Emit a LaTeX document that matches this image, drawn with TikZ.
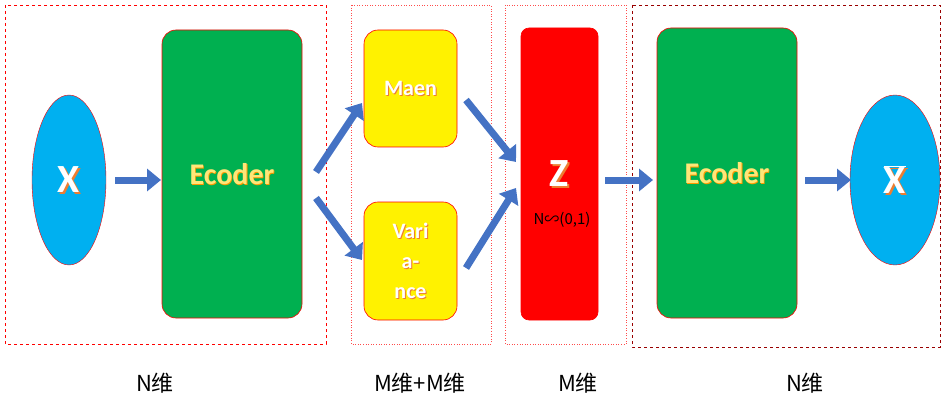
\documentclass[tikz,border=0pt]{standalone}
\usepackage{fontspec}
\setmainfont{Carlito}
\newfontfamily\cjk{Noto Sans CJK SC}
\usetikzlibrary{arrows.meta,shapes.geometric}
\definecolor{cy}{RGB}{0,176,240}
\definecolor{gr}{RGB}{0,176,80}
\definecolor{bl}{RGB}{68,114,196}
\definecolor{orz}{RGB}{237,125,49}
\definecolor{yl}{RGB}{255,230,120}
\tikzset{
 box/.style={draw=red,rounded corners=14pt,line width=0.6pt},
 barrow/.style={bl,line width=7pt,-{Triangle[length=14pt,width=22pt]},shorten <=0pt},
 lab/.style={font=\cjk\fontsize{22}{24}\selectfont},
 sh/.style={text=orz},
 wt/.style={text=white},
}
\newcommand{\fx}[4]{\node[sh,font=#3] at ([shift={(1.5,1.5)}]#1) {#4};\node[#2,font=#3] at (#1) {#4};}
\begin{document}
\begin{tikzpicture}[x=1pt,y=-1pt]
\useasboundingbox (0,0) rectangle (945,409);
\draw[red,dashed,line width=0.5pt] (5,5) rectangle (326,344);
\draw[red!70,dotted,line width=0.6pt] (351,5) rectangle (491,344);
\draw[red!70,dotted,line width=0.6pt] (505,5) rectangle (626,344);
\draw[red!60!black,dashed,line width=0.5pt] (632,5) rectangle (940,347);
\node[ellipse,draw=red,fill=cy,minimum width=74pt,minimum height=170pt,inner sep=0] (x) at (69,180) {};
\node[box,fill=gr,minimum width=140pt,minimum height=288pt] (e1) at (232,174) {};
\node[box,fill=yellow,minimum width=93pt,minimum height=117pt] (m) at (410.5,88.5) {};
\node[box,fill=yellow,minimum width=93pt,minimum height=118pt] (v) at (410.5,261) {};
\node[box,fill=red,minimum width=77pt,minimum height=292pt,rounded corners=8pt] (z) at (559.5,174) {};
\node[box,fill=gr,minimum width=140pt,minimum height=290pt] (e2) at (727,173) {};
\node[ellipse,draw=red,fill=cy,minimum width=90pt,minimum height=170pt,inner sep=0] (xb) at (895,180) {};
\fx{x.center}{wt}{\fontsize{40}{44}\selectfont\bfseries}{X}
\fx{xb.center}{wt}{\fontsize{40}{44}\selectfont\bfseries}{$\overline{\mbox{X}}$}
\fx{z.center}{wt}{\fontsize{40}{44}\selectfont\bfseries}{Z}
\node[font=\fontsize{30}{34}\selectfont\bfseries,text=orange!80!yellow] at ([shift={(0.8,0.8)}]e1.center) {Ecoder};
\node[font=\fontsize{30}{34}\selectfont\bfseries,text=yl] (t1) at (e1.center) {Ecoder};
\node[font=\fontsize{30}{34}\selectfont\bfseries,text=orange!80!yellow] at ([shift={(0.8,0.8)}]e2.center) {Ecoder};
\node[font=\fontsize{30}{34}\selectfont\bfseries,text=yl] (t2) at (e2.center) {Ecoder};
\node[font=\fontsize{22}{24}\selectfont\bfseries,text=orz] at ([shift={(1,1)}]m.center) {Maen};
\node[font=\fontsize{22}{24}\selectfont\bfseries,text=white] at (m.center) {Maen};
\node[font=\fontsize{22}{30}\selectfont\bfseries,text=orz,align=center] at ([shift={(1,1)}]v.center) {Vari\\a-\\nce};
\node[font=\fontsize{22}{30}\selectfont\bfseries,text=white,align=center] at (v.center) {Vari\\a-\\nce};
\node[font=\cjk\fontsize{15}{16}\selectfont] (nd) at (562,220) {N∽(0,1)};
\coordinate (a1s) at (115,180); \coordinate (a1e) at (161,180);
\draw[barrow] (a1s) -- (a1e);
\coordinate (a2s) at (316,172); \coordinate (a2e) at (362,103);
\draw[barrow] (a2s) -- (a2e);
\coordinate (a3s) at (316,198); \coordinate (a3e) at (362,260);
\draw[barrow] (a3s) -- (a3e);
\coordinate (a4s) at (466,100); \coordinate (a4e) at (516,162);
\draw[barrow] (a4s) -- (a4e);
\coordinate (a5s) at (466,268); \coordinate (a5e) at (516,188);
\draw[barrow] (a5s) -- (a5e);
\coordinate (a6s) at (605,180); \coordinate (a6e) at (653,180);
\draw[barrow] (a6s) -- (a6e);
\coordinate (a7s) at (805,180); \coordinate (a7e) at (851,180);
\draw[barrow] (a7s) -- (a7e);
\node[lab] (l1) at (155,383) {N维};
\node[lab] (l2) at (420,383) {M维+M维};
\node[lab] (l3) at (578,383) {M维};
\node[lab] (l4) at (805,383) {N维};
\end{tikzpicture}
\end{document}
